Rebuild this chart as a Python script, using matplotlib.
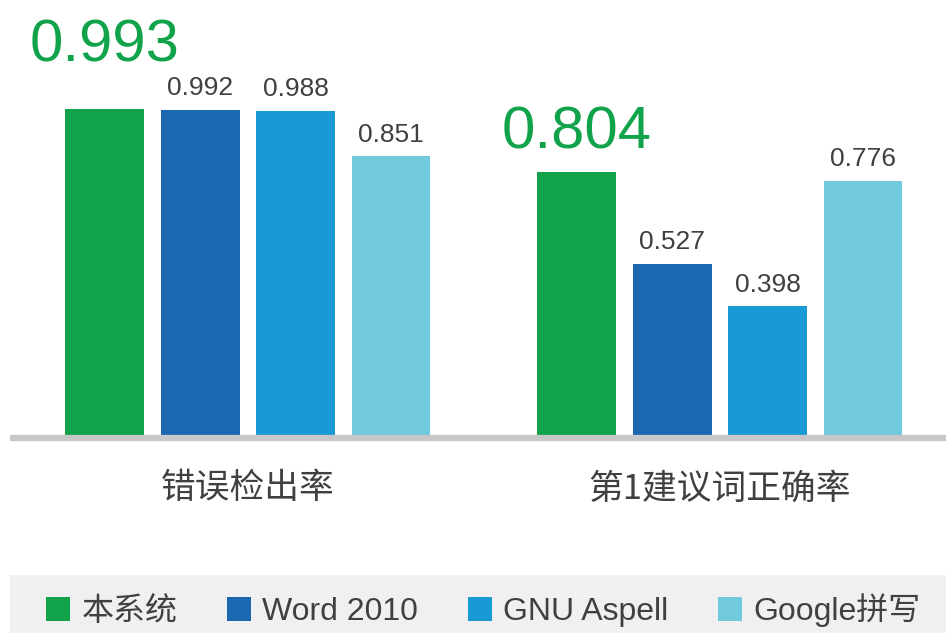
import matplotlib.pyplot as plt
from matplotlib.patches import Rectangle
import numpy as np

# data
categories = ["错误检出率", "第1建议词正确率"]
series = ["本系统", "Word 2010", "GNU Aspell", "Google拼写"]
values = [
    [0.993, 0.804],  # 本系统
    [0.992, 0.527],  # Word 2010
    [0.988, 0.398],  # GNU Aspell
    [0.851, 0.776],  # Google拼写
]
colors = ["#10A34A", "#1B67B2", "#1A9AD4", "#70CADB"]

plt.rcParams['font.family'] = ['Liberation Sans', 'Noto Sans CJK SC']
text_color = "#404040"

W, H = 946, 633
fig = plt.figure(figsize=(W / 100, H / 100), dpi=100)
# axes: x 10..946 px, y 0..438 px from top
ax = fig.add_axes([10 / W, (H - 438) / H, 936 / W, 438 / H])

x = np.arange(len(categories))
width = 0.167
step = 0.202
bars = []
for i, (name, vals) in enumerate(zip(series, values)):
    pos = x + (i - 1.5) * step
    b = ax.bar(pos, vals, width, color=colors[i], label=name, zorder=2)
    bars.append(b)
    for j, (px, v) in enumerate(zip(pos, vals)):
        if i == 0:
            # highlight own system with big green label
            off = [26, 8][j]
            ax.annotate(f"{v:.3f}", (px, v), xytext=(0, off), textcoords="offset points",
                        ha="center", va="bottom", fontsize=43, color=colors[0])
        else:
            ax.annotate(f"{v:.3f}", (px, v), xytext=(0, 7), textcoords="offset points",
                        ha="center", va="bottom", fontsize=19, color=text_color)

ax.axhline(0, color="#C8C8C8", linewidth=4.5, zorder=3, clip_on=False,
           solid_capstyle="butt")
ax.set_xlim(-0.504, 1.479)
ax.set_ylim(0, 438 / 331)
ax.set_xticks(x)
ax.set_xticklabels(categories, fontsize=25, color=text_color, family=['Noto Sans CJK SC'])
ax.tick_params(axis="x", length=0, pad=24)
ax.set_yticks([])
for s in ax.spines.values():
    s.set_visible(False)

# legend band
fig.patches.append(Rectangle((10 / W, 0), 936 / W, 58 / H, transform=fig.transFigure,
                             facecolor="#F0F0F0", edgecolor="none", zorder=0))
leg = fig.legend(handles=bars, labels=series, loc="center left",
                 bbox_to_anchor=(46 / W, 1 - 610 / H), ncol=4, frameon=False,
                 fontsize=23, handlelength=0.76, handleheight=0.76, handletextpad=0.35,
                 columnspacing=1.55, borderpad=0, borderaxespad=0)
for t in leg.get_texts():
    t.set_color(text_color)

fig.savefig("out.png", dpi=100)
